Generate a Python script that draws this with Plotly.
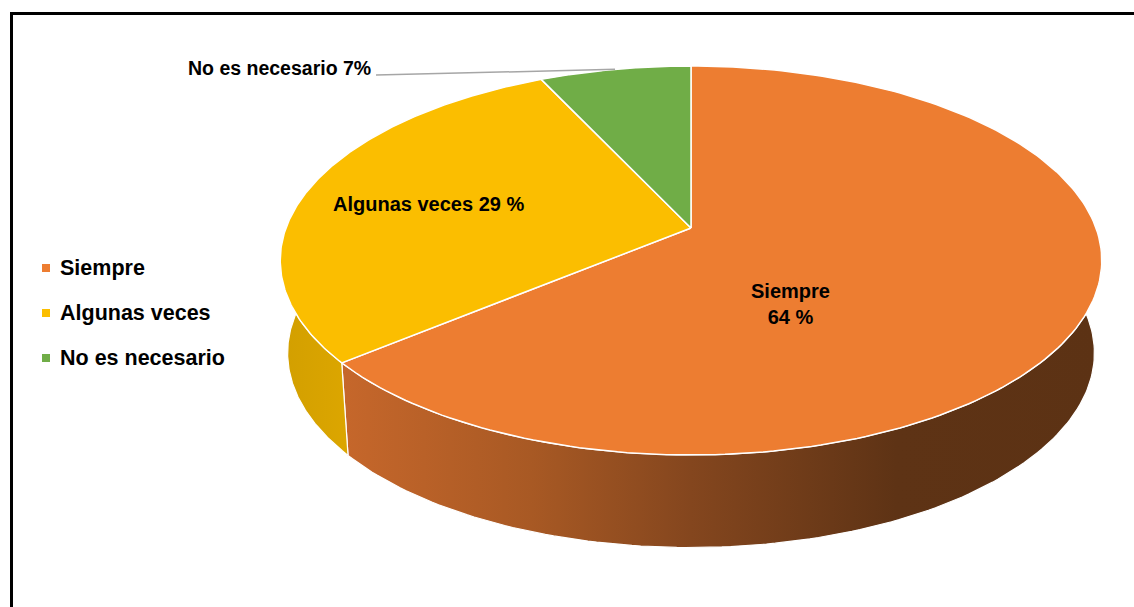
import numpy as np
import plotly.graph_objects as go

# Survey answers and their shares (%)
categories = ["Siempre", "Algunas veces", "No es necesario"]
values = [64, 29, 7]
slice_labels = ["Siempre<br>64 %", "Algunas veces 29 %", "No es necesario 7%"]

top_colors = ["#ED7D31", "#FBBE00", "#70AD47"]
wall_scales = [
    [[0.0, "#C6672B"], [0.25, "#A85924"], [0.46, "#84461E"], [0.73, "#5E3315"], [1.0, "#5C3214"]],
    [[0.0, "#D29F00"], [1.0, "#DCA600"]],
    [[0.0, "#4F7A32"], [1.0, "#4F7A32"]],
]

W, H = 1134, 607

# Perspective projection of the unit disc (angle measured clockwise from the top)
CX, CY0 = 691.0, 228.0
K, A, C = 405.0, -150.97, 0.1671
DEPTH, SHRINK = 92.5, 0.982


def project(theta_deg, bottom=False):
    t = np.radians(theta_deg)
    u, v = np.sin(t), np.cos(t)
    w = 1 + C * v
    x = CX + K * u / w
    y = (CY0 + A * v) / w
    if bottom:
        x = CX + (x - CX) * SHRINK
        y = y + DEPTH
    return x, y


total = sum(values)
edges = np.concatenate([[0], np.cumsum(values)]) / total * 360.0

fig = go.Figure()

# Side walls (front half of the cylinder, slightly past the silhouette)
for i, cat in enumerate(categories):
    a0, a1 = max(edges[i], 80.0), min(edges[i + 1], 280.0)
    if a1 <= a0:
        continue
    th = np.linspace(a0, a1, 140)
    xt, yt = project(th)
    xb, yb = project(th[::-1], bottom=True)
    fig.add_trace(go.Scatter(
        x=np.concatenate([xt, xb, xt[:1]]), y=np.concatenate([yt, yb, yt[:1]]),
        mode="lines", fill="toself", line=dict(color="white", width=1.2),
        fillgradient=dict(type="horizontal", colorscale=wall_scales[i]),
        hoverinfo="skip", showlegend=False))

# Top faces of the slices
for i, cat in enumerate(categories):
    th = np.linspace(edges[i], edges[i + 1], 200)
    xt, yt = project(th)
    fig.add_trace(go.Scatter(
        x=np.concatenate([[CX], xt, [CX]]), y=np.concatenate([[CY0], yt, [CY0]]),
        mode="lines", fill="toself", fillcolor=top_colors[i],
        line=dict(color="white", width=1.5), name=cat,
        hoverinfo="name", showlegend=False))

font = dict(family="Liberation Sans, Arial, sans-serif", size=20, color="black", weight="bold")

# Data labels
fig.add_annotation(x=790, y=304, text=slice_labels[0], showarrow=False, font=font,
                   xanchor="center", yanchor="middle", align="center")
fig.add_annotation(x=428, y=204, text=slice_labels[1], showarrow=False, font=font,
                   xanchor="center", yanchor="middle")
fig.add_annotation(x=373, y=68, text=slice_labels[2], showarrow=False,
                   font=dict(font, size=19.5), xanchor="right", yanchor="middle")

# Leader line to the smallest slice
mid_green = (edges[2] + edges[3]) / 2
gx, gy = project(mid_green)
fig.add_shape(type="line", x0=376, y0=75, x1=float(gx), y1=float(gy),
              line=dict(color="#A6A6A6", width=1.5))

# Legend
leg_y = [268 + 45 * i for i in range(len(categories))]
fig.add_trace(go.Scatter(x=[46] * len(categories), y=leg_y, mode="markers",
                         marker=dict(symbol="square", size=8, color=top_colors,
                                     line=dict(width=0)),
                         hoverinfo="skip", showlegend=False))
for cat, yy in zip(categories, leg_y):
    fig.add_annotation(x=58, y=yy, text=cat, showarrow=False, xanchor="left",
                       yanchor="middle", font=dict(font, size=21.5))

# Chart frame (left and top edges visible)
fig.add_shape(type="path", path=f"M 11.5 {H + 5} L 11.5 13.5 L {W + 5} 13.5",
              line=dict(color="black", width=3))

fig.update_layout(
    width=W, height=H, margin=dict(l=0, r=0, t=0, b=0),
    paper_bgcolor="white", plot_bgcolor="white",
    xaxis=dict(range=[0, W], visible=False, fixedrange=True),
    yaxis=dict(range=[H, 0], visible=False, fixedrange=True),
)

fig.write_html("out.html")
